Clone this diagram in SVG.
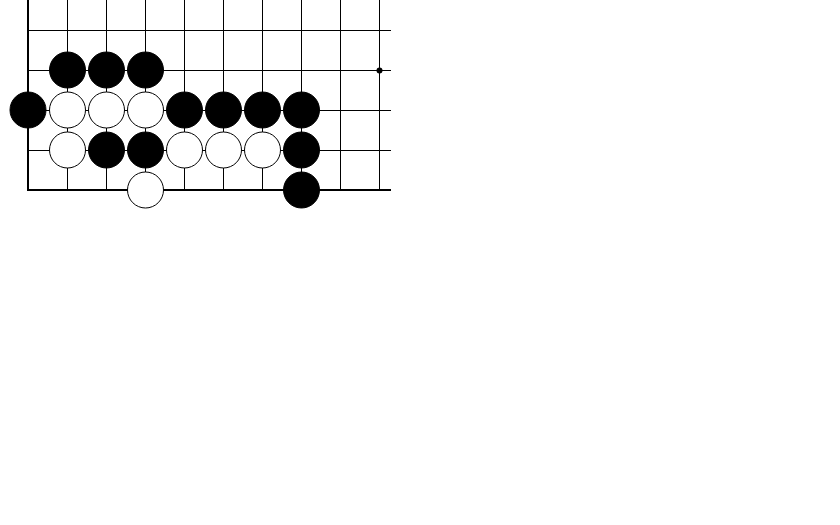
<svg xmlns="http://www.w3.org/2000/svg" width="840" height="525" viewBox="0 0 840 525">
<style>
.g{stroke:#000;stroke-width:1;fill:none}
.e{stroke:#000;stroke-width:2;fill:none}
.b{fill:#000;stroke:#000;stroke-width:1}
.w{fill:#fff;stroke:#000;stroke-width:1}
</style>
<rect width="840" height="525" fill="#fff"/>
<g id="board">
<path class="g" d="M67.5 0V190M106.5 0V190M145.5 0V190M184.5 0V190M223.5 0V190M262.5 0V190M301.5 0V190M340.5 0V190M379.5 0V190"/>
<path class="g" d="M28 30.5H391M28 70.5H391M28 110.5H391M28 150.5H391"/>
<path class="e" d="M28 0V190M27 190H391"/>
<circle cx="379.5" cy="70.5" r="3" fill="#000"/>
</g>
<g id="stones">
<g id="b1"><circle class="b" cx="67.5" cy="70" r="18"/></g>
<g id="b2"><circle class="b" cx="106.5" cy="70" r="18"/></g>
<g id="b3"><circle class="b" cx="145.5" cy="70" r="18"/></g>
<g id="b4"><circle class="b" cx="28" cy="110" r="18"/></g>
<g id="w1"><circle class="w" cx="67.5" cy="110" r="18"/></g>
<g id="w2"><circle class="w" cx="106.5" cy="110" r="18"/></g>
<g id="w3"><circle class="w" cx="145.5" cy="110" r="18"/></g>
<g id="b5"><circle class="b" cx="184.5" cy="110" r="18"/></g>
<g id="b6"><circle class="b" cx="223.5" cy="110" r="18"/></g>
<g id="b7"><circle class="b" cx="262.5" cy="110" r="18"/></g>
<g id="b8"><circle class="b" cx="301.5" cy="110" r="18"/></g>
<g id="w4"><circle class="w" cx="67.5" cy="150" r="18"/></g>
<g id="b9"><circle class="b" cx="106.5" cy="150" r="18"/></g>
<g id="b10"><circle class="b" cx="145.5" cy="150" r="18"/></g>
<g id="w5"><circle class="w" cx="184.5" cy="150" r="18"/></g>
<g id="w6"><circle class="w" cx="223.5" cy="150" r="18"/></g>
<g id="w7"><circle class="w" cx="262.5" cy="150" r="18"/></g>
<g id="b11"><circle class="b" cx="301.5" cy="150" r="18"/></g>
<g id="w8"><circle class="w" cx="145.5" cy="190" r="18"/></g>
<g id="b12"><circle class="b" cx="301.5" cy="190" r="18"/></g>
</g>
<g id="connectors"/>
</svg>
